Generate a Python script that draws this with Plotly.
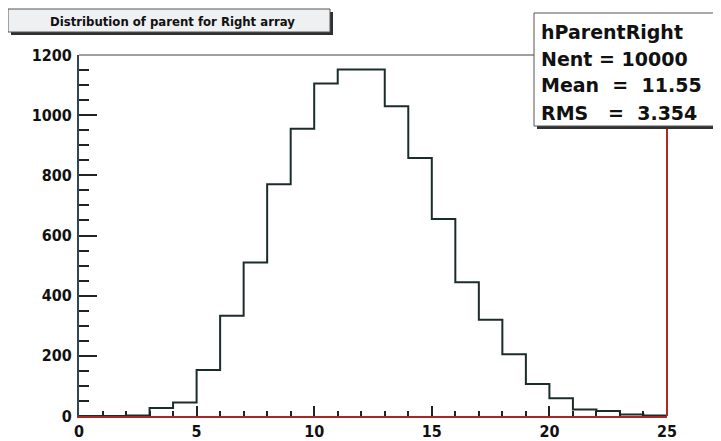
import plotly.graph_objects as go

# bin edges 0..25, one entry per unit bin
bin_edges = list(range(0, 26))
counts = [0, 0, 2, 27, 45, 153, 333, 510, 770, 955, 1105, 1152, 1152,
          1030, 858, 655, 445, 320, 205, 106, 59, 22, 17, 5, 2]

hist_name = "hParentRight"
stat_lines = ["hParentRight", "Nent = 10000", "Mean  =  11.55", "RMS   =  3.354"]
title_text = "Distribution of parent for Right array"

OFF = 8                          # page body margin
W, H = 721 - OFF, 441 - OFF
L, R, T, B = 79, 667, 55, 416    # plot area in screen pixels


def px(x):
    return (x - L) / (R - L)


def py(y):
    return (B - y) / (B - T)


fig = go.Figure()

fig.add_trace(go.Scatter(
    x=bin_edges,
    y=counts + [counts[-1]],
    mode="lines",
    line=dict(shape="hv", color="#1c2c2c", width=2),
    name=hist_name,
    showlegend=False,
    hoverinfo="skip",
))

narrow = "DejaVu Sans Condensed, Liberation Sans Narrow, DejaVu Sans"
tick_font = dict(family=narrow, size=16, color="#111111", weight="bold")

fig.update_layout(
    width=W, height=H,
    margin=dict(l=L - OFF, r=721 - R, t=T - OFF, b=441 - B, pad=0),
    paper_bgcolor="white",
    plot_bgcolor="white",
    xaxis=dict(
        range=[0, 25], dtick=5, tick0=0, automargin=False,
        ticks="inside", ticklen=10, tickwidth=1.5, tickcolor="#222222",
        minor=dict(dtick=1, ticks="inside", ticklen=5, tickcolor="#222222"),
        showgrid=False, zeroline=False,
        showline=True, linecolor="#a82828", linewidth=2,
        tickfont=tick_font,
    ),
    yaxis=dict(
        range=[0, 1200], dtick=200, tick0=0, automargin=False,
        ticks="inside", ticklen=18, tickwidth=1.5, tickcolor="#222222",
        minor=dict(dtick=50, ticks="inside", ticklen=10, tickcolor="#222222"),
        showgrid=False, zeroline=False,
        showline=True, linecolor="#2e4656", linewidth=2,
        tickfont=tick_font,
        ticklabelstandoff=2,
    ),
)

shapes = []
# frame: gray top line, red right line
shapes.append(dict(type="line", xref="paper", yref="paper",
                   x0=0, x1=px(536), y0=1, y1=1,
                   line=dict(color="#a0a0a0", width=2)))
shapes.append(dict(type="line", xref="paper", yref="paper",
                   x0=1, x1=1, y0=0, y1=py(127),
                   line=dict(color="#b02828", width=2)))

# title box with shadow
shapes.append(dict(type="rect", xref="paper", yref="paper",
                   x0=px(11), x1=px(333), y0=py(35), y1=py(12),
                   fillcolor="#303030", line=dict(width=0)))
shapes.append(dict(type="rect", xref="paper", yref="paper",
                   x0=px(8), x1=px(330), y0=py(32), y1=py(9),
                   fillcolor="#eef0f2", line=dict(color="#555555", width=1)))

# stats box with shadow (runs off the right edge)
shapes.append(dict(type="rect", xref="paper", yref="paper",
                   x0=px(537), x1=px(730), y0=py(129), y1=py(16),
                   fillcolor="#303030", line=dict(width=0)))
shapes.append(dict(type="rect", xref="paper", yref="paper",
                   x0=px(534), x1=px(727), y0=py(126), y1=py(13),
                   fillcolor="white", line=dict(color="#555555", width=1)))

annotations = [dict(
    text=title_text, xref="paper", yref="paper",
    x=px(172), y=py(21), xanchor="center", yanchor="middle",
    showarrow=False,
    font=dict(family=narrow, size=13, color="#111111", weight="bold"),
)]

for i, line in enumerate(stat_lines):
    annotations.append(dict(
        text=line.replace(" ", "&nbsp;"), xref="paper", yref="paper",
        x=px(539), y=py(31.5 + i * 27), xanchor="left", yanchor="middle",
        showarrow=False,
        font=dict(family="DejaVu Sans", size=19, color="#111111", weight="bold"),
    ))

fig.update_layout(shapes=shapes, annotations=annotations)

fig.write_html("out.html")
